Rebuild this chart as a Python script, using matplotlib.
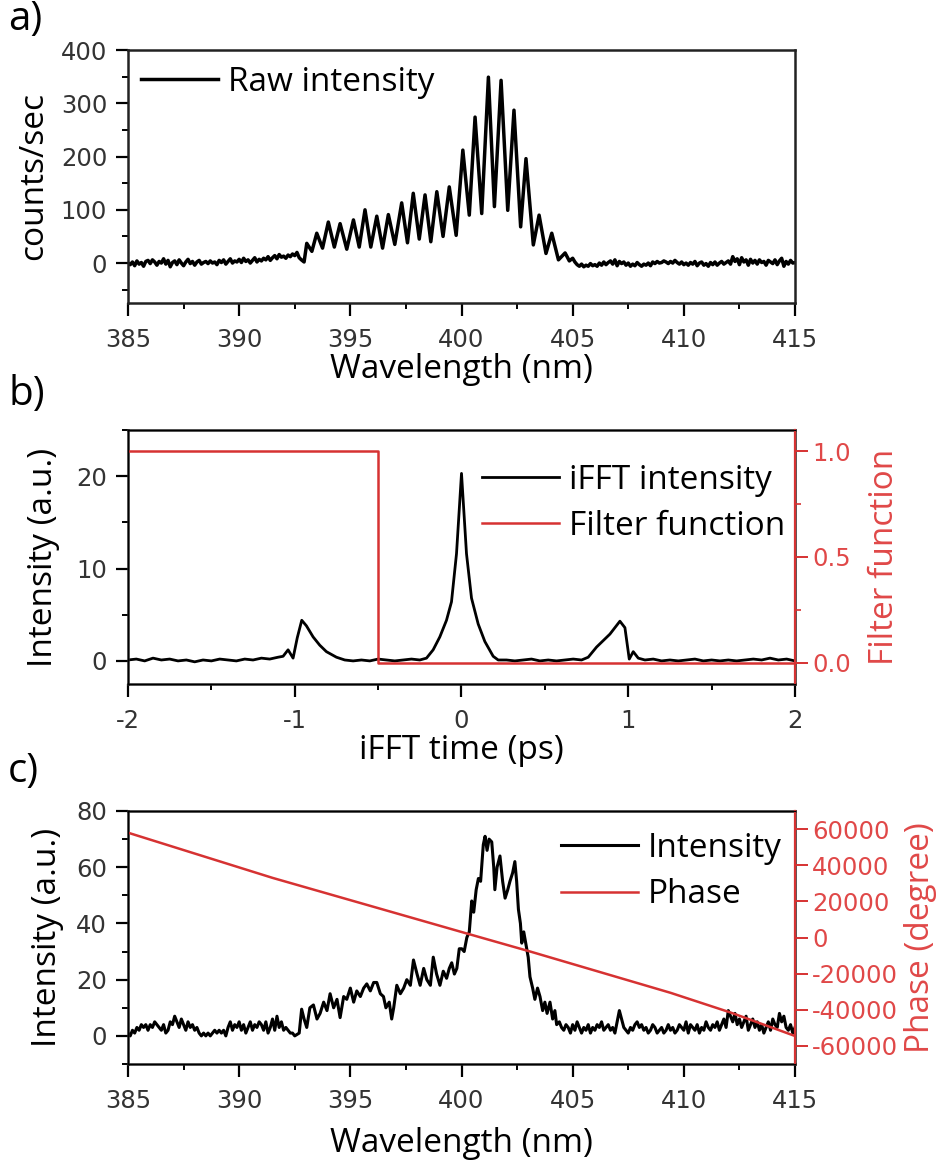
import numpy as np
import matplotlib
matplotlib.use("Agg")
import matplotlib.pyplot as plt
from matplotlib.ticker import MultipleLocator, FormatStrFormatter

RED = "#d63232"
RED_TXT = "#e04848"

# ---------------- panel a: raw spectrum ----------------
# noisy baseline 385.0 .. 392.8 nm (0.1 nm steps)
a_left_vals = [0, -3, 2, -5, 4, -2, 1, -6, 3, 5, -1, 6, 2, -4, 3, 0, 8, -2, 5, -7,
               1, 4, -3, 6, 0, -5, 2, 7, -1, 3, -4, 2, 5, -2, 1, 3, -1, 4, 0, 2,
               -3, 5, 1, 6, -2, 3, 8, 0, 4, 2, 7, 1, 9, 3, 6, 0, 5, 10, 2, 7,
               4, 9, 6, 12, 5, 10, 14, 8, 16, 11, 13, 9, 15, 12, 17, 14, 20, 10, 6]
# fringe peaks / troughs
a_fringe_wl = [392.92, 393.04, 393.27, 393.49, 393.75, 394.01, 394.28, 394.54, 394.84,
               395.14, 395.40, 395.66, 395.92, 396.19, 396.45, 396.71, 397.00, 397.31,
               397.57, 397.83, 398.10, 398.36, 398.62, 398.89, 399.17, 399.45, 399.76,
               400.06, 400.35, 400.61, 400.91, 401.21, 401.48, 401.78, 402.08, 402.36,
               402.66, 402.90, 403.23, 403.49, 403.80, 404.06, 404.36, 404.66, 404.85, 405.0]
a_fringe_val = [2, 37, 22, 56, 28, 77, 30, 74, 26,
                81, 30, 100, 30, 88, 28, 91, 35, 113,
                38, 131, 45, 128, 40, 134, 50, 143, 52,
                212, 90, 274, 93, 349, 106, 343, 99, 287,
                68, 196, 34, 90, 18, 56, 6, 19, 4, 9]
# noisy baseline 405.1 .. 415.0 nm (0.1 nm steps)
a_right_vals = [2, -3, -6, -2, -7, -4, -6, -1, -5, -3,
                -6, 0, -4, 2, -3, 1, 4, -2, 6, -5,
                3, -1, 2, -4, 0, -6, -2, -5, 1, -3,
                -6, -2, -4, 0, -5, 2, -1, 3, 0, 1,
                4, 2, -1, 3, 0, 5, 1, -2, 2, -3,
                0, -4, 1, -2, 3, -5, 0, 2, -4, -1,
                -6, 1, -3, 2, -4, 0, 3, -2, 1, 4,
                -2, 12, 3, 8, -3, 10, 2, 6, -4, 7,
                0, 5, -2, 6, 1, 3, -4, 5, 2, -1,
                6, -3, 4, 9, -6, 3, -2, 5, 0, 1]

# ---------------- panel b: iFFT ----------------
b_base1 = [0.1, 0.2, 0.0, 0.3, 0.1, 0.2, 0.0, 0.1, -0.1, 0.1, 0.0, 0.2, 0.1, 0.0, 0.2,
           0.1, 0.3, 0.2, 0.4]                       # -2.00 .. -1.10
b_peak1_t = [-1.07, -1.04, -1.01, -0.985, -0.958, -0.93, -0.89, -0.85, -0.81, -0.75, -0.70]
b_peak1_v = [0.5, 1.2, 0.3, 2.5, 4.4, 3.8, 2.6, 1.7, 1.0, 0.4, 0.1]
b_base2 = [0.0, 0.1, 0.0, 0.2, 0.1, 0.0, 0.1, 0.2, 0.1]  # -0.65 .. -0.25
b_peak0_t = [-0.21, -0.17, -0.13, -0.09, -0.06, -0.03, 0.0, 0.03, 0.06, 0.10, 0.14, 0.19, 0.22]
b_peak0_v = [0.3, 1.2, 2.6, 4.4, 6.4, 11.6, 20.3, 11.6, 6.8, 4.0, 2.1, 0.5, 0.1]
b_base3 = [0.1, 0.0, 0.1, 0.2, 0.0, 0.1, 0.0, 0.1, 0.2, 0.1]  # 0.27 .. 0.72
b_peak2_t = [0.76, 0.81, 0.89, 0.95, 0.98, 1.006, 1.03, 1.06]
b_peak2_v = [0.4, 1.5, 2.9, 4.3, 3.6, 0.2, 1.0, 0.3]
b_base4 = [0.1, 0.2, 0.0, 0.1, 0.0, 0.1, 0.2, 0.0, 0.1, 0.0, 0.1, 0.0, 0.1, 0.2, 0.1,
           0.3, 0.1, 0.2, 0.0]                       # 1.10 .. 2.00
filt_t = [-2, -0.5, -0.5, 2]
filt_v = [1, 1, 0, 0]

# ---------------- panel c: filtered spectrum + phase ----------------
c_left_vals = [1, 0, 2, 1, 3, 2, 4, 3, 4, 2,
               4, 3, 5, 4, 3, 2, 4, 1, 2, 5,
               4, 7, 5, 3, 6, 4, 2, 5, 3, 4,
               2, 3, 1, 0, 1, 0, 1, 0, 1, 2,
               1, 2, 1, 2, 0, 3, 5, 2, 4, 3,
               5, 2, 4, 1, 3, 5, 2, 4, 3, 5,
               4, 2, 5, 1, 3, 6, 2, 7, 3, 5,
               2, 3, 2, 1, 1, 0]                     # 385.0 .. 392.5
c_mid_wl = [392.7, 392.81, 392.92, 393.04, 393.18, 393.34, 393.5, 393.64, 393.8, 393.95,
            394.09, 394.25, 394.4, 394.54, 394.7, 394.84, 395.0, 395.15, 395.29, 395.45,
            395.6, 395.74, 395.9, 396.05, 396.19, 396.35, 396.49, 396.6, 396.75, 396.86,
            396.95, 397.09, 397.25, 397.4, 397.54, 397.7, 397.84, 398.0, 398.14, 398.3,
            398.44, 398.6, 398.73, 398.88, 399.03, 399.18, 399.33, 399.45, 399.56, 399.68,
            399.79, 399.9, 400.01, 400.12, 400.24, 400.35, 400.46, 400.55, 400.66, 400.76,
            400.86, 400.98, 401.06, 401.15, 401.24, 401.36, 401.45, 401.5, 401.6, 401.73,
            401.85, 401.96, 402.08, 402.18, 402.3, 402.4, 402.48, 402.56, 402.65, 402.71,
            402.8, 402.93, 403.0, 403.08, 403.2, 403.3, 403.42, 403.53, 403.65, 403.75,
            403.85, 403.98, 404.1, 404.2, 404.28, 404.4]
c_mid_val = [1, 9.5, 6, 3, 10, 11, 6, 8, 12, 9,
             15, 10, 13, 6.5, 14, 13, 17, 12, 16, 14,
             17, 18.5, 16, 19, 19, 15, 14, 10, 12, 6,
             10, 18, 15, 17, 20, 18, 27, 22, 18, 24,
             20, 18, 28, 22, 18, 23, 20.5, 24, 26, 22,
             24, 31, 31, 30, 35, 37, 48, 44, 52, 56,
             55, 68, 71, 66, 70, 69, 60, 52, 60, 64,
             55, 49, 52, 55, 58, 62, 55, 45, 40, 33,
             37, 31, 28, 21, 17, 13, 17, 14, 9, 12,
             8, 12, 6, 9, 4, 5]
c_right_vals = [3, 2, 4, 3, 1, 4, 2, 5, 3, 1,
                3, 2, 4, 1, 3, 2, 4, 3, 5, 2,
                3, 4, 2, 3, 1, 5, 9, 6, 3, 2,
                1, 3, 2, 4, 5, 3, 4, 2, 3, 1,
                2, 4, 3, 1, 2, 3, 1, 2, 4, 2,
                3, 1, 2, 4, 3, 2, 5, 1, 4, 3,
                2, 4, 1, 3, 2, 5, 3, 2, 4, 3,
                5, 2, 4, 6, 3, 9, 7, 5, 8, 4,
                6, 3, 5, 7, 2, 4, 6, 3, 5, 2,
                4, 1, 3, 5, 2, 6, 4, 3, 8, 5,
                7, 3, 2, 4, 1, 3]                     # 404.5 .. 415.0
phase_wl = [385, 391.5, 400.3, 403.1, 409.4, 412.1, 415]
phase_val = [58000, 33000, 2000, -7800, -30600, -41500, -54500]

# assemble traces
a_wl = np.concatenate([np.linspace(385.0, 392.8, len(a_left_vals)), a_fringe_wl,
                       np.linspace(405.1, 415.0, len(a_right_vals))])
a_val = np.concatenate([a_left_vals, a_fringe_val, a_right_vals])

b_t = np.concatenate([np.linspace(-2.0, -1.10, len(b_base1)), b_peak1_t,
                      np.linspace(-0.65, -0.25, len(b_base2)), b_peak0_t,
                      np.linspace(0.27, 0.72, len(b_base3)), b_peak2_t,
                      np.linspace(1.10, 2.0, len(b_base4))])
b_v = np.concatenate([b_base1, b_peak1_v, b_base2, b_peak0_v, b_base3, b_peak2_v, b_base4])

c_wl = np.concatenate([np.linspace(385.0, 392.5, len(c_left_vals)), c_mid_wl,
                       np.linspace(404.5, 415.0, len(c_right_vals))])
c_val = np.concatenate([c_left_vals, c_mid_val, c_right_vals])

plt.rcParams["font.family"] = ["Open Sans", "DejaVu Sans"]
plt.rcParams["axes.unicode_minus"] = False
LBL = 24
TCK = 17.5

fig = plt.figure(figsize=(9.41, 11.65), dpi=100)
left, width = 128 / 941, 667 / 941
ax_a = fig.add_axes([left, 1 - 303 / 1165, width, 253 / 1165])
ax_b = fig.add_axes([left, 1 - 684 / 1165, width, 254 / 1165])
ax_c = fig.add_axes([left, 1 - 1064 / 1165, width, 253 / 1165])


def style(ax):
    for s in ax.spines.values():
        s.set_linewidth(1.8)
        s.set_color("#222222")
    ax.tick_params(which="major", direction="out", length=9, width=1.6, pad=6,
                   labelsize=TCK, labelcolor="#333333", top=False, right=False)
    ax.tick_params(axis="x", which="major", pad=9)
    ax.tick_params(which="minor", direction="out", length=4.5, width=1.4, top=False, right=False)
    for lab in ax.get_xticklabels() + ax.get_yticklabels():
        lab.set_family("DejaVu Sans")


def style_right(ax):
    ax.spines["right"].set_color(RED)
    ax.spines["right"].set_linewidth(1.6)
    ax.tick_params(axis="y", which="both", colors=RED, labelcolor=RED_TXT,
                   direction="out", labelsize=TCK)
    ax.tick_params(axis="y", which="major", length=9, width=1.4)
    ax.tick_params(axis="y", which="minor", length=4.5, width=1.2)
    for lab in ax.get_yticklabels():
        lab.set_family("DejaVu Sans")


# panel a
ax_a.plot(a_wl, a_val, color="black", lw=2.5, label="Raw intensity")
ax_a.set_xlim(385, 415)
ax_a.set_ylim(-75, 400)
ax_a.xaxis.set_major_locator(MultipleLocator(5))
ax_a.xaxis.set_minor_locator(MultipleLocator(2.5))
ax_a.yaxis.set_major_locator(MultipleLocator(100))
ax_a.yaxis.set_minor_locator(MultipleLocator(50))
ax_a.set_xlabel("Wavelength (nm)", fontsize=LBL, labelpad=1)
ax_a.set_ylabel("counts/sec", fontsize=LBL, labelpad=8)
style(ax_a)
ax_a.legend(loc="upper left", frameon=False, fontsize=LBL, handlelength=2.3,
            handletextpad=0.3, borderaxespad=0.0, bbox_to_anchor=(0.0, 0.99))

# panel b
ax_b.plot(b_t, b_v, color="black", lw=2.0, label="iFFT intensity")
ax_b.set_xlim(-2, 2)
ax_b.set_ylim(-2.5, 25)
ax_b.xaxis.set_major_locator(MultipleLocator(1))
ax_b.xaxis.set_minor_locator(MultipleLocator(0.5))
ax_b.yaxis.set_major_locator(MultipleLocator(10))
ax_b.yaxis.set_minor_locator(MultipleLocator(5))
ax_b.set_xlabel("iFFT time (ps)", fontsize=LBL, labelpad=1)
ax_b.set_ylabel("Intensity (a.u.)", fontsize=LBL, labelpad=12)
style(ax_b)
ax_b2 = ax_b.twinx()
ax_b2.plot(filt_t, filt_v, color=RED, lw=1.8, label="Filter function")
ax_b2.set_ylim(-0.1, 1.1)
ax_b2.yaxis.set_major_locator(MultipleLocator(0.5))
ax_b2.yaxis.set_minor_locator(MultipleLocator(0.25))
ax_b2.yaxis.set_major_formatter(FormatStrFormatter("%.1f"))
ax_b2.set_ylabel("Filter function", fontsize=LBL, color=RED_TXT, labelpad=12)
style_right(ax_b2)
hb = ax_b.get_lines() + ax_b2.get_lines()
ax_b.legend(hb, [h.get_label() for h in hb], loc="upper right", frameon=False,
            fontsize=LBL, handlelength=2.3, handletextpad=0.3, labelspacing=0.4,
            borderaxespad=0.0, bbox_to_anchor=(1.005, 0.92))

# panel c
ax_c.plot(c_wl, c_val, color="black", lw=2.2, label="Intensity")
ax_c.set_xlim(385, 415)
ax_c.set_ylim(-10, 80)
ax_c.xaxis.set_major_locator(MultipleLocator(5))
ax_c.xaxis.set_minor_locator(MultipleLocator(2.5))
ax_c.yaxis.set_major_locator(MultipleLocator(20))
ax_c.yaxis.set_minor_locator(MultipleLocator(10))
ax_c.set_xlabel("Wavelength (nm)", fontsize=LBL, labelpad=10)
ax_c.set_ylabel("Intensity (a.u.)", fontsize=LBL, labelpad=9)
style(ax_c)
ax_c2 = ax_c.twinx()
ax_c2.plot(phase_wl, phase_val, color=RED, lw=1.8, label="Phase")
ax_c2.set_ylim(-70000, 70000)
ax_c2.yaxis.set_major_locator(MultipleLocator(20000))
ax_c2.set_ylabel("Phase (degree)", fontsize=LBL, color=RED_TXT, labelpad=4)
style_right(ax_c2)
hc = ax_c.get_lines() + ax_c2.get_lines()
ax_c.legend(hc, [h.get_label() for h in hc], loc="upper right", frameon=False,
            fontsize=LBL, handlelength=2.3, handletextpad=0.3, labelspacing=0.4,
            borderaxespad=0.0, bbox_to_anchor=(1.0, 0.97))

# panel letters
for txt, y in [("a)", 1 - 20 / 1165), ("b)", 1 - 395 / 1165), ("c)", 1 - 772 / 1165)]:
    fig.text(8 / 941, y, txt, fontsize=29, va="center", ha="left")

fig.savefig("out.png", dpi=100)
